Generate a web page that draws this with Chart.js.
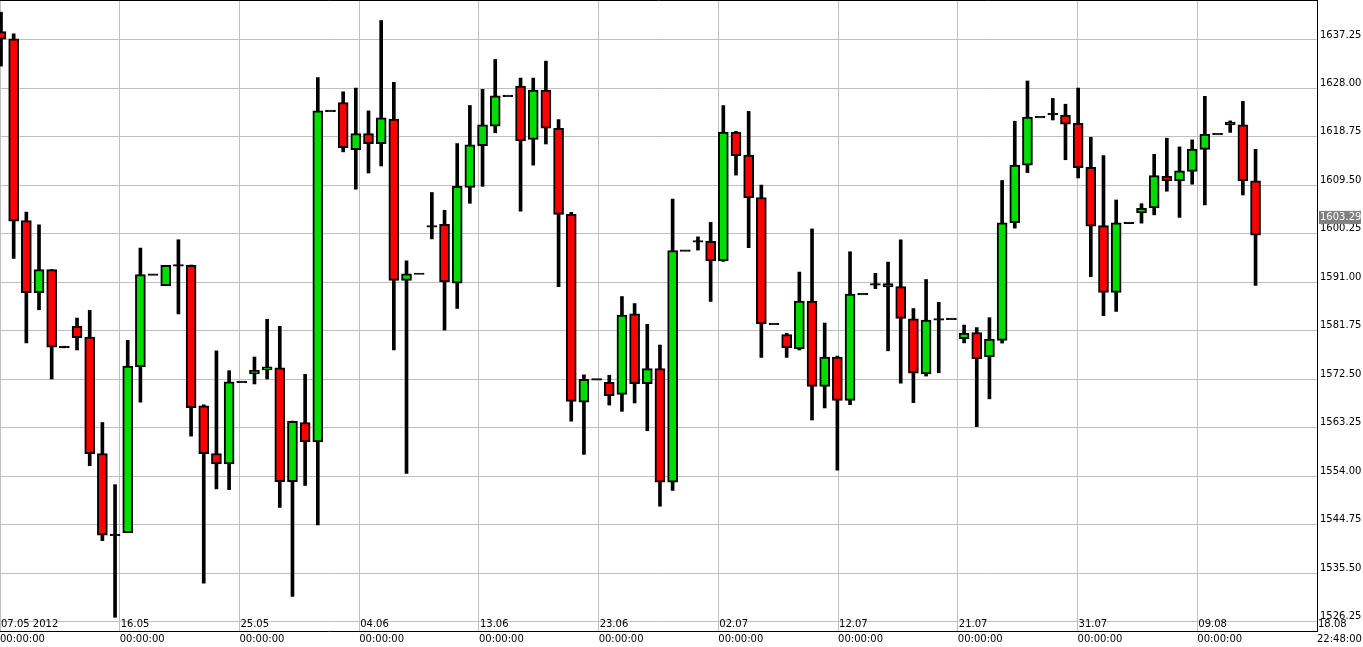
<!DOCTYPE html>
<html>
<head>
<meta charset="utf-8">
<script src="https://cdn.jsdelivr.net/npm/chart.js@4/dist/chart.umd.min.js"></script>
<style>
  html, body { margin: 0; padding: 0; background: #fff; }
  #wrap { width: 1363px; height: 647px; }
</style>
</head>
<body>
<div id="wrap"><canvas id="c"></canvas></div>
<script>
// daily candles
const opens = [1638.83,1637.48,1602.76,1589.0,1593.43,1578.63,1582.59,1580.53,1558.31,1542.8,
  1543.2,1574.84,1592.48,1590.34,1594.22,1594.22,1567.4,1558.31,1556.33,1571.99,
  1573.49,1574.28,1574.68,1552.93,1564.24,1560.52,1623.72,1625.3,1616.29,1619.37,
  1617.47,1622.14,1591.37,1592.63,1601.65,1602.05,1590.82,1609.09,1617.08,1620.79,
  1626.57,1628.47,1618.26,1627.68,1620.4,1603.95,1568.11,1572.46,1571.91,1569.62,
  1584.96,1571.67,1574.52,1552.85,1597.06,1598.8,1598.8,1595.09,1619.69,1615.26,
  1607.19,1583.06,1581.01,1578.32,1587.42,1571.12,1576.74,1568.43,1588.76,1590.58,
  1590.74,1590.18,1584.01,1573.49,1583.93,1584.0,1580.22,1581.4,1576.74,1579.9,
  1602.36,1613.36,1622.53,1623.09,1622.93,1621.35,1612.96,1601.81,1589.08,1602.36,
  1604.26,1605.21,1611.22,1610.35,1612.17,1616.36,1619.29,1621.59,1621.03,1610.35];
const highs = [1642.55,1638.43,1604.42,1601.97,1593.43,1578.8,1584.17,1585.67,1564.24,1552.37,
  1579.9,1597.54,1592.48,1594.22,1599.12,1594.3,1567.6,1577.92,1574.13,1571.99,
  1576.74,1583.93,1582.59,1564.5,1573.42,1630.05,1623.72,1627.36,1628.07,1623.72,
  1640.96,1629.18,1595.09,1592.63,1608.14,1604.74,1617.47,1624.75,1627.83,1633.53,
  1626.57,1629.97,1629.97,1633.21,1622.06,1604.34,1573.33,1572.46,1573.26,1588.28,
  1586.94,1582.98,1579.03,1606.87,1597.06,1599.67,1602.44,1624.75,1619.8,1623.64,
  1609.56,1583.06,1581.25,1592.95,1601.18,1583.22,1576.9,1596.83,1588.76,1592.71,
  1594.85,1599.12,1585.99,1591.53,1587.18,1584.0,1582.83,1582.35,1584.25,1610.43,
  1621.74,1629.42,1622.53,1626.09,1624.99,1628.07,1618.66,1615.18,1606.71,1602.36,
  1606.0,1615.42,1618.5,1616.84,1618.18,1626.49,1619.29,1621.8,1625.54,1616.36];
const lows = [1632.26,1595.56,1579.43,1585.75,1572.54,1578.5,1578.08,1556.01,1541.69,1527.06,
  1543.2,1568.11,1592.48,1590.34,1584.96,1561.63,1533.55,1551.58,1551.42,1571.99,
  1571.59,1572.54,1548.02,1531.02,1552.22,1544.7,1623.72,1615.89,1608.77,1611.86,
  1613.2,1578.08,1554.51,1592.63,1599.28,1581.88,1585.99,1606.08,1609.32,1619.53,
  1626.57,1604.58,1613.36,1617.39,1590.18,1564.48,1558.15,1572.46,1567.56,1566.37,
  1567.96,1562.66,1548.26,1551.27,1597.06,1597.14,1587.34,1595.0,1611.46,1597.62,
  1576.66,1583.06,1576.66,1578.08,1564.71,1567.01,1555.14,1567.64,1588.76,1589.79,
  1577.92,1571.75,1568.03,1573.1,1573.73,1584.0,1579.43,1563.45,1568.75,1579.4,
  1601.34,1611.94,1622.53,1621.98,1614.39,1610.91,1592.08,1584.65,1585.44,1602.36,
  1602.29,1603.87,1608.38,1603.39,1609.72,1605.77,1619.29,1619.61,1607.66,1590.42];
const closes = [1637.41,1602.68,1589.0,1593.43,1578.63,1578.63,1580.45,1558.31,1542.72,1542.8,
  1575.0,1592.48,1592.48,1594.22,1594.22,1567.09,1558.31,1556.33,1571.99,1571.99,
  1574.2,1574.84,1552.93,1564.48,1560.52,1623.72,1623.72,1616.68,1619.37,1617.47,
  1622.38,1591.37,1592.63,1592.63,1601.65,1591.05,1609.32,1617.23,1621.03,1626.57,
  1626.57,1618.03,1627.68,1620.4,1603.95,1568.27,1572.46,1572.46,1569.38,1584.72,
  1571.67,1574.52,1552.85,1597.06,1597.06,1598.8,1595.09,1619.69,1615.18,1607.11,
  1583.06,1583.06,1578.48,1587.42,1571.12,1576.74,1568.43,1588.76,1588.76,1590.58,
  1590.1,1584.09,1573.65,1583.78,1583.93,1584.0,1581.32,1576.42,1580.14,1602.36,
  1613.36,1622.53,1622.53,1623.09,1621.19,1612.88,1601.73,1589.08,1602.36,1602.36,
  1605.13,1611.38,1610.35,1612.25,1616.44,1619.29,1619.29,1621.03,1610.35,1599.99];

const yTicks = [1526.25,1535.50,1544.75,1554.00,1563.25,1572.50,1581.75,1591.00,1600.25,1609.50,1618.75,1628.00,1637.25];
const dateLabels = ['07.05 2012','16.05','25.05','04.06','13.06','23.06','02.07','12.07','21.07','31.07','09.08','18.08'];
const timeLabels = ['00:00:00','00:00:00','00:00:00','00:00:00','00:00:00','00:00:00','00:00:00','00:00:00','00:00:00','00:00:00','00:00:00','22:48:00'];
const lastPrice = 1603.29;

// grid / date ticks fall every ~9.45 candles
const tickStart = -0.079, tickStep = 9.448;
const xMax = tickStart + tickStep * 11;

const wicks = highs.map((h, i) => ({ x: i, y: [lows[i], h] }));
const bodies = opens.map((o, i) => {
    let c = closes[i];
    if (Math.abs(o - c) < 0.2) return { x: i, y: [o - 0.15, o + 0.15] };
    return { x: i, y: [o, c] };
});
const bodyColors = opens.map((o, i) => {
    if (Math.abs(o - closes[i]) < 0.2) return '#000';
    return closes[i] < o ? '#ff0000' : '#00dd00';
});

const frame = {
    id: 'frame',
    afterDraw(chart) {
        const ctx = chart.ctx, a = chart.chartArea, xs = chart.scales.x;
        ctx.save();
        ctx.strokeStyle = '#000';
        ctx.lineWidth = 1;
        ctx.beginPath();
        ctx.moveTo(a.left, a.top + 0.5);
        ctx.lineTo(a.right, a.top + 0.5);
        ctx.stroke();
        ctx.font = '10px "DejaVu Sans"';
        ctx.textBaseline = 'middle';
        ctx.fillStyle = '#000';
        dateLabels.forEach((d, k) => {
            ctx.fillText(d, xs.getPixelForValue(tickStart + tickStep * k) + 1, a.bottom - 7);
        });
        const y = chart.scales.y.getPixelForValue(lastPrice);
        ctx.fillStyle = '#808080';
        ctx.fillRect(a.right + 2, y - 7, 42, 13);
        ctx.fillStyle = '#fff';
        ctx.fillText(lastPrice.toFixed(2), a.right + 3, y);
        ctx.restore();
    }
};

new Chart(document.getElementById('c'), {
    type: 'bar',
    data: {
        datasets: [{
            data: wicks,
            backgroundColor: '#000',
            barThickness: 3,
            grouped: false,
            order: 2
        }, {
            data: bodies,
            backgroundColor: bodyColors,
            borderColor: '#000',
            borderWidth: 2,
            borderSkipped: false,
            barThickness: 10,
            grouped: false,
            order: 1
        }]
    },
    options: {
        responsive: true,
        maintainAspectRatio: false,
        animation: false,
        layout: { padding: 0 },
        plugins: { legend: { display: false }, tooltip: { enabled: false } },
        scales: {
            x: {
                type: 'linear',
                min: tickStart,
                max: xMax,
                offset: false,
                afterFit: (s) => { s.height = 16; s.paddingLeft = 0; s.paddingRight = 0; },
                afterBuildTicks: (s) => {
                    s.ticks = dateLabels.map((_, k) => ({ value: tickStart + tickStep * k }));
                },
                grid: { color: '#c0c0c0', drawTicks: false, offset: false },
                border: { color: '#000' },
                ticks: {
                    autoSkip: false,
                    maxRotation: 0,
                    align: 'start',
                    padding: 2,
                    color: '#000',
                    font: { family: 'DejaVu Sans', size: 10 },
                    callback: (v, i) => timeLabels[i]
                }
            },
            y: {
                position: 'right',
                min: 1524.44,
                max: 1644.88,
                afterFit: (s) => { s.width = 46; s.paddingTop = 0; s.paddingBottom = 0; },
                afterBuildTicks: (s) => { s.ticks = yTicks.map(v => ({ value: v })); },
                grid: { color: '#c0c0c0', drawTicks: false },
                border: { color: '#000' },
                ticks: {
                    padding: 3,
                    labelOffset: -5,
                    color: '#000',
                    font: { family: 'DejaVu Sans', size: 10 },
                    callback: (v) => v.toFixed(2)
                }
            }
        }
    },
    plugins: [frame]
});
</script>
</body>
</html>
